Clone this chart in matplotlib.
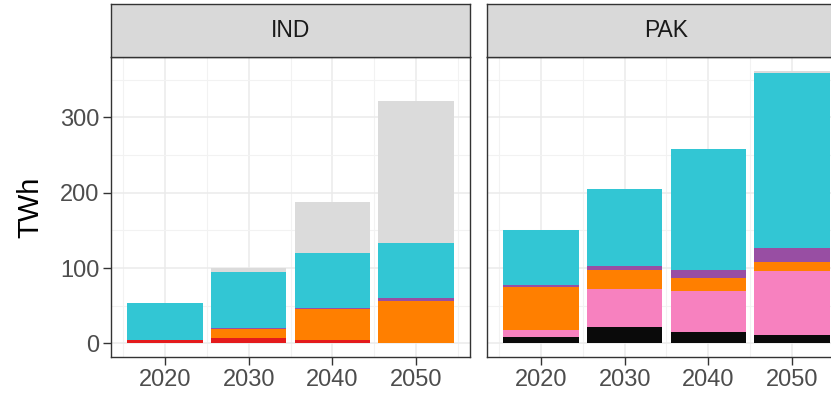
import numpy as np
import matplotlib
matplotlib.use("Agg")
import matplotlib.pyplot as plt

plt.rcParams['font.family'] = ['Liberation Sans', 'DejaVu Sans']

years = [2020, 2030, 2040, 2050]
techs = ['coal', 'oil', 'gas', 'hydro', 'biomass', 'solar', 'wind', 'other']
colors = {'coal': '#0a0a0a', 'oil': '#e41a1c', 'gas': '#f781bf', 'hydro': '#ff7f00',
          'biomass': '#984ea3', 'solar': '#32c6d4', 'wind': '#a65628', 'other': '#dbdbdb'}

# TWh by technology, one value per year
ind_coal = [0, 0, 0, 0]
ind_oil = [5, 7.5, 5, 0]
ind_gas = [0, 0, 0, 0]
ind_hydro = [0, 12, 40, 56.6]
ind_biomass = [0, 1.5, 1.4, 4]
ind_solar = [48, 74, 73.9, 72]
ind_wind = [0, 0, 0, 1.2]
ind_other = [0, 5, 67.7, 188]

pak_coal = [9, 22, 15.5, 11.5]
pak_oil = [0, 0, 0, 0]
pak_gas = [9, 50.5, 54.5, 85]
pak_hydro = [57, 25.2, 17, 12]
pak_biomass = [3, 5.3, 10.7, 18.6]
pak_solar = [72.7, 102, 160.3, 232]
pak_wind = [0, 0, 0, 0]
pak_other = [0, 0, 0, 3]

regions = {
    'IND': [ind_coal, ind_oil, ind_gas, ind_hydro, ind_biomass, ind_solar, ind_wind, ind_other],
    'PAK': [pak_coal, pak_oil, pak_gas, pak_hydro, pak_biomass, pak_solar, pak_wind, pak_other],
}

W, H = 831, 395
fig = plt.figure(figsize=(W / 100, H / 100), dpi=100)

border = '#333333'
panel_x = [111, 487]
panel_w = 359
panel_top, panel_bot, strip_top = 57, 357, 4

for i, (name, series) in enumerate(regions.items()):
    x0 = panel_x[i]
    ax = fig.add_axes([x0 / W, (H - panel_bot) / H, panel_w / W, (panel_bot - panel_top) / H])
    bottom = np.zeros(len(years))
    for tech, vals in zip(techs, series):
        vals = np.array(vals, dtype=float)
        ax.bar(years, vals, width=9, bottom=bottom, color=colors[tech], linewidth=0, zorder=3)
        bottom += vals

    ax.set_xlim(2013.55, 2056.45)
    ax.set_ylim(-18.1, 380.1)
    ax.set_xticks(years)
    ax.set_xticks([2015, 2025, 2035, 2045, 2055], minor=True)
    ax.set_yticks([0, 100, 200, 300])
    ax.set_yticks([50, 150, 250, 350], minor=True)
    ax.grid(which='major', color='#ebebeb', linewidth=1.1, zorder=0)
    ax.grid(which='minor', color='#f2f2f2', linewidth=0.8, zorder=0)
    ax.set_axisbelow(True)
    for sp in ax.spines.values():
        sp.set_color(border)
        sp.set_linewidth(1.0)
    ax.tick_params(which='minor', length=0)
    ax.tick_params(which='major', length=5.5, width=1.0, color=border,
                   labelsize=17, labelcolor='#4d4d4d', pad=3)
    if i > 0:
        ax.tick_params(axis='y', left=False, labelleft=False)

    sax = fig.add_axes([x0 / W, (H - panel_top) / H, panel_w / W, (panel_top - strip_top) / H])
    sax.set_facecolor('#d9d9d9')
    sax.set_xticks([])
    sax.set_yticks([])
    for sp in sax.spines.values():
        sp.set_color(border)
        sp.set_linewidth(1.0)
    sax.text(0.5, 0.5, name, ha='center', va='center', fontsize=16.5, color='#1a1a1a',
             transform=sax.transAxes)

fig.text(30 / W, (H - 207) / H, 'TWh', rotation=90, ha='center', va='center',
         fontsize=21, color='black')

fig.savefig('out.png', dpi=100)
